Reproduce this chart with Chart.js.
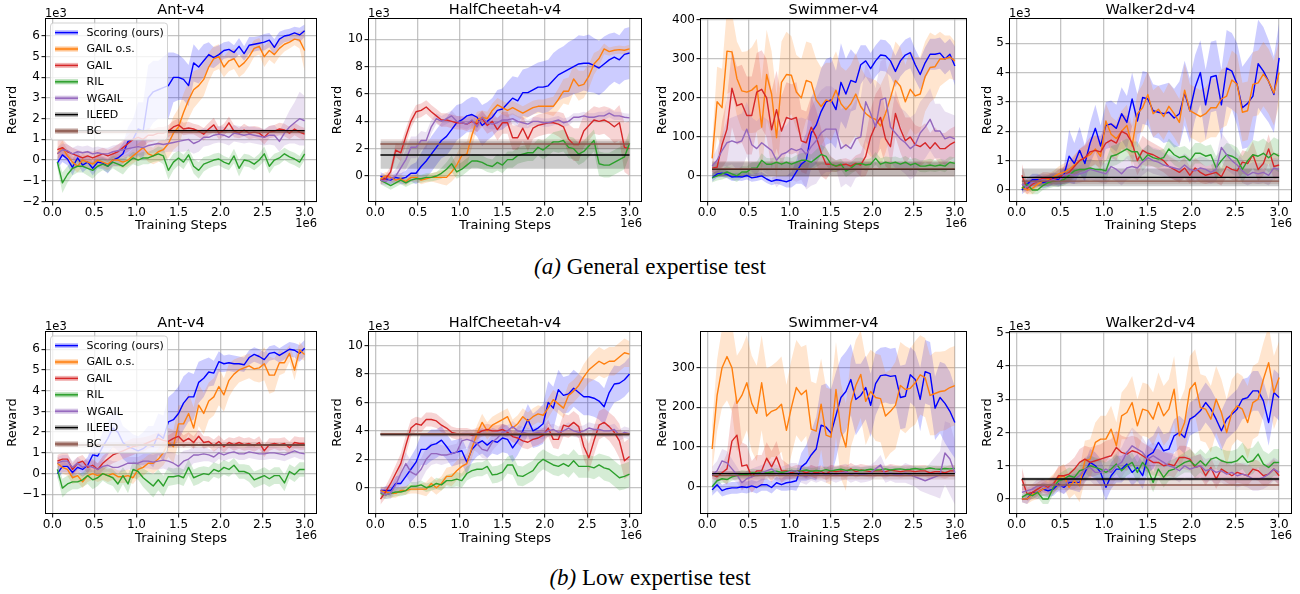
<!DOCTYPE html>
<html>
<head>
<meta charset="utf-8">
<script src="https://cdn.jsdelivr.net/npm/chart.js@4.4.1/dist/chart.umd.min.js"></script>
<style>
html,body{margin:0;padding:0;background:#fff;width:1300px;height:594px;overflow:hidden;}
body{position:relative;font-family:"DejaVu Sans",sans-serif;}
canvas{position:absolute;}
.cap{position:absolute;left:0;width:1300px;text-align:center;font-family:"Liberation Serif",serif;font-size:23px;line-height:26px;color:#000;}
</style>
</head>
<body>
<div class="cap" style="top:254px"><i>(a)</i> General expertise test</div>
<div class="cap" style="top:565px"><i>(b)</i> Low expertise test</div>
<script>
// ---------------- DATA ----------------
const seriesNames = ['Scoring (ours)','GAIL o.s.','GAIL','RIL','WGAIL','ILEED','BC'];
const steps = [0.06,0.12,0.18,0.24,0.30,0.36,0.42,0.48,0.54,0.60,
  0.66,0.72,0.78,0.84,0.90,0.96,1.02,1.08,1.14,1.20,
  1.26,1.32,1.38,1.44,1.50,1.56,1.62,1.68,1.74,1.80,
  1.86,1.92,1.98,2.04,2.10,2.16,2.22,2.28,2.34,2.40,
  2.46,2.52,2.58,2.64,2.70,2.76,2.82,2.88,2.94,3.00];
const xTicks = [0,0.5,1,1.5,2,2.5,3];
const yTicksAntG = [-2,-1,0,1,2,3,4,5,6];
const yTicksAntL = [-1,0,1,2,3,4,5,6];
const yTicksHalf = [0,2,4,6,8,10];
const yTicksSwimG = [0,100,200,300,400];
const yTicksSwimL = [0,100,200,300];
const yTicksWalk = [0,1,2,3,4,5];

// ===== (a) General expertise: Ant-v4 (x1e3) =====
const gAnt_scoring = [-0.15,0.25,0.05,-0.35,0.1,-0.25,-0.1,-0.4,-0.1,-0.15,
  -0.3,0.0,0.1,0.3,0.9,1.0,1.5,1.4,3.0,3.3,
  3.4,3.5,3.6,4.0,4.0,3.9,3.6,4.7,4.5,4.8,
  5.1,4.95,5.1,5.3,5.35,5.2,5.5,5.15,5.55,5.6,
  5.65,5.7,5.8,5.45,5.85,6.0,6.05,6.15,6.05,6.25];
const gAnt_scoring_sd = [0.3,0.35,0.3,0.4,0.3,0.35,0.3,0.35,0.3,0.3,
  0.35,0.3,0.4,0.5,0.7,1.0,1.3,1.4,1.6,1.5,
  1.4,1.5,1.6,1.2,1.1,1.0,1.0,0.9,0.8,0.8,
  0.6,0.5,0.45,0.4,0.4,0.35,0.4,0.35,0.4,0.35,
  0.35,0.4,0.35,0.4,0.35,0.3,0.3,0.3,0.35,0.3];
const gAnt_gailos = [0.3,0.6,0.2,-0.1,-0.3,0.0,-0.1,-0.2,0.0,-0.1,
  -0.2,0.0,0.0,-0.1,0.0,0.2,0.4,0.6,0.3,0.2,
  0.4,0.5,0.8,1.3,1.6,2.3,2.9,3.4,3.6,3.9,
  4.5,4.9,5.0,4.5,4.8,4.9,4.5,4.7,5.0,5.4,
  5.5,5.0,5.3,5.1,5.4,5.6,5.7,5.85,5.8,5.3];
const gAnt_gailos_sd = [0.3,0.35,0.3,0.3,0.3,0.3,0.3,0.3,0.3,0.3,
  0.3,0.3,0.3,0.3,0.3,0.35,0.4,0.4,0.4,0.4,
  0.5,0.5,0.7,0.8,0.9,0.9,0.9,0.9,0.8,0.8,
  0.7,0.6,0.6,0.5,0.5,0.5,0.5,0.5,0.45,0.4,
  0.4,0.5,0.45,0.45,0.4,0.35,0.3,0.3,0.4,1.0];
const gAnt_gail = [0.5,0.6,0.4,0.3,0.2,0.1,0.2,0.1,0.2,0.3,
  0.2,0.3,0.4,0.6,0.8,1.0,1.1,1.0,1.2,1.2,
  1.3,1.3,1.4,1.6,1.7,1.5,1.55,1.5,1.4,1.25,
  1.5,1.7,1.3,1.45,1.8,1.4,1.3,1.45,1.3,1.35,
  1.3,1.1,1.35,1.4,1.5,1.45,1.3,1.5,1.35,1.25];
const gAnt_gail_sd = [0.45,0.4,0.35,0.3,0.3,0.3,0.25,0.3,0.3,0.3,
  0.3,0.3,0.35,0.35,0.4,0.4,0.4,0.35,0.35,0.3,
  0.3,0.3,0.3,0.3,0.3,0.3,0.3,0.25,0.3,0.3,
  0.3,0.35,0.3,0.3,0.3,0.3,0.25,0.3,0.3,0.3,
  0.3,0.35,0.3,0.3,0.3,0.3,0.3,0.3,0.3,0.3];
const gAnt_ril = [-0.1,-1.1,-0.7,-0.4,-0.3,-0.3,-0.4,-0.5,-0.3,-0.2,
  -0.3,-0.1,-0.2,-0.3,-0.1,0.1,0.0,0.1,0.1,0.2,
  0.3,0.2,-0.5,-0.1,0.1,-0.1,0.25,-0.3,-0.5,-0.2,
  -0.1,0.0,0.05,-0.1,-0.2,0.2,-0.4,0.0,-0.05,-0.2,
  0.0,0.3,-0.3,0.0,0.1,0.3,0.15,0.05,-0.1,0.3];
const gAnt_ril_sd = [0.3,0.5,0.4,0.35,0.3,0.3,0.35,0.4,0.35,0.3,
  0.3,0.3,0.35,0.4,0.3,0.3,0.3,0.3,0.3,0.3,
  0.35,0.4,0.45,0.4,0.35,0.35,0.3,0.35,0.4,0.35,
  0.3,0.3,0.3,0.3,0.3,0.35,0.4,0.3,0.3,0.3,
  0.3,0.35,0.35,0.3,0.3,0.3,0.3,0.3,0.3,0.3];
const gAnt_wgail = [0.3,0.5,0.45,0.3,0.4,0.35,0.4,0.3,0.35,0.3,
  0.3,0.4,0.45,0.5,0.55,0.6,0.65,0.6,0.7,0.75,
  0.8,0.75,0.8,0.85,0.9,0.95,1.0,0.8,0.9,1.1,
  1.1,1.2,1.25,1.2,1.1,1.3,1.25,1.2,1.25,1.2,
  1.15,1.1,1.2,1.2,0.9,1.3,1.6,1.8,2.0,1.9];
const gAnt_wgail_sd = [0.3,0.3,0.3,0.3,0.3,0.3,0.3,0.3,0.3,0.3,
  0.3,0.3,0.3,0.35,0.35,0.4,0.4,0.4,0.4,0.4,
  0.4,0.4,0.4,0.45,0.5,0.55,0.55,0.5,0.5,0.45,
  0.4,0.4,0.4,0.4,0.4,0.4,0.4,0.4,0.4,0.4,
  0.4,0.4,0.45,0.5,0.5,0.6,0.8,1.0,1.3,1.2];
const gAnt_ileed = [1.42, 0.05];
const gAnt_bc = [1.35, 0.1];

// ===== (a) HalfCheetah-v4 (x1e3) =====
const gHalf_scoring = [0.0,-0.2,-0.3,-0.1,-0.2,-0.1,0.2,0.2,0.7,1.1,
  1.6,2.1,2.6,2.9,3.4,3.9,4.1,4.4,4.5,4.3,
  3.7,4.0,4.3,4.8,4.9,5.3,5.7,5.5,6.1,6.1,
  6.3,6.5,6.5,6.6,7.0,7.4,7.6,7.8,8.0,8.2,
  8.25,8.25,8.1,7.9,8.2,8.5,8.7,8.5,8.9,9.0];
const gHalf_scoring_sd = [0.3,0.3,0.3,0.3,0.4,0.5,0.6,0.8,1.0,1.2,
  1.3,1.3,1.3,1.4,1.4,1.3,1.2,1.2,1.3,1.4,
  1.5,1.4,1.4,1.5,1.5,1.6,1.6,1.7,1.7,1.8,
  1.8,1.8,1.9,1.9,2.0,1.9,1.9,2.0,2.0,2.1,
  2.0,2.1,2.0,2.0,2.0,1.9,1.8,1.8,1.9,1.9];
const gHalf_gailos = [-0.2,0.0,-0.1,-0.3,-0.2,-0.4,-0.1,-0.1,-0.3,-0.2,
  -0.1,-0.1,-0.1,-0.1,0.3,0.8,1.5,1.6,3.0,4.1,
  4.3,4.2,4.8,5.2,5.0,4.8,5.0,4.8,4.6,4.8,
  5.0,5.1,5.1,5.1,5.1,5.6,6.2,6.2,7.1,6.6,
  6.7,7.3,8.2,8.6,9.3,9.1,9.2,9.25,9.2,9.3];
const gHalf_gailos_sd = [0.3,0.3,0.3,0.3,0.3,0.3,0.3,0.3,0.3,0.3,
  0.3,0.4,0.5,0.6,0.7,0.8,0.9,0.9,0.9,0.6,
  0.5,0.5,0.5,0.5,0.5,0.5,0.5,0.5,0.5,0.5,
  0.5,0.5,0.5,0.6,0.7,0.8,0.9,1.0,1.0,1.1,
  1.0,0.9,0.8,0.6,0.4,0.3,0.3,0.3,0.3,0.3];
const gHalf_gail = [-0.3,-0.2,0.3,1.9,1.7,2.9,4.0,4.7,4.8,5.05,
  4.7,4.4,4.1,4.1,4.0,3.9,3.9,3.8,4.0,3.8,
  4.2,3.7,4.0,3.4,3.9,3.9,2.8,2.8,3.5,2.7,
  3.5,3.7,3.8,3.9,3.9,3.8,3.6,2.7,2.3,2.3,
  3.3,3.7,4.1,4.0,4.1,3.9,3.6,3.9,2.1,2.0];
const gHalf_gail_sd = [0.3,0.3,0.4,0.5,0.6,0.6,0.5,0.5,0.5,0.5,
  0.5,0.5,0.5,0.5,0.5,0.5,0.5,0.5,0.5,0.6,
  0.6,0.6,0.7,0.8,0.8,0.8,0.9,0.9,0.9,0.9,
  0.8,0.8,0.8,0.8,0.8,0.9,1.0,1.1,1.2,1.2,
  1.2,1.1,1.0,1.0,1.0,1.1,1.2,1.3,1.8,2.0];
const gHalf_ril = [-0.3,-0.5,-0.7,-0.5,-0.3,-0.5,-0.3,-0.2,-0.2,-0.1,
  -0.1,0.0,0.2,0.5,0.9,0.3,0.5,0.8,1.1,1.1,
  1.0,0.8,0.7,1.0,0.8,1.2,1.2,1.5,1.6,1.7,
  1.7,2.1,1.9,2.2,2.5,2.5,2.6,2.1,2.0,1.6,
  1.8,2.2,2.6,0.9,0.8,0.8,1.0,1.2,1.4,2.4];
const gHalf_ril_sd = [0.3,0.3,0.3,0.3,0.3,0.3,0.3,0.3,0.3,0.3,
  0.3,0.3,0.4,0.5,0.6,0.5,0.5,0.5,0.5,0.5,
  0.5,0.5,0.5,0.6,0.6,0.6,0.6,0.6,0.6,0.6,
  0.6,0.6,0.7,0.7,0.7,0.8,0.8,0.8,0.8,0.8,
  0.8,0.8,0.8,0.9,0.9,0.9,0.9,0.9,0.9,0.9];
const gHalf_wgail = [-0.3,-0.4,-0.2,0.0,0.6,1.2,2.1,2.1,2.6,2.6,
  3.6,4.2,4.0,4.2,4.4,4.0,3.9,3.8,4.1,3.6,
  4.3,3.9,3.8,3.9,4.1,4.1,4.2,4.0,3.9,3.8,
  4.0,4.0,3.9,3.9,4.0,4.1,3.9,4.0,4.3,4.3,
  4.4,4.3,4.3,4.4,4.4,4.6,4.4,4.4,4.3,4.25];
const gHalf_wgail_sd = [0.3,0.3,0.4,0.5,0.6,0.7,0.8,0.8,0.7,0.6,
  0.5,0.4,0.4,0.4,0.4,0.4,0.4,0.4,0.4,0.4,
  0.4,0.4,0.4,0.4,0.4,0.4,0.4,0.4,0.4,0.3,
  0.3,0.3,0.3,0.3,0.3,0.3,0.3,0.3,0.3,0.3,
  0.3,0.3,0.3,0.3,0.3,0.3,0.3,0.3,0.3,0.3];
const gHalf_ileed = [1.54, 1.0];
const gHalf_bc = [2.34, 0.35];

// ===== (a) Swimmer-v4 =====
const gSwim_scoring = [-5,5,7,4,-3,-2,-3,1,-5,-3,
  0,-8,-14,-10,-12,-15,-10,10,30,40,
  110,130,165,190,195,170,240,210,245,240,
  285,295,275,295,310,308,295,268,295,310,
  316,285,260,290,312,312,315,300,312,282];
const gSwim_scoring_sd = [10,10,10,10,10,10,10,10,10,10,
  10,10,10,10,12,15,20,30,50,70,
  90,100,110,110,110,100,100,90,80,70,
  50,40,40,40,40,40,40,40,40,40,
  40,40,40,40,40,40,40,40,40,50];
const gSwim_gailos = [45,190,175,320,318,250,218,215,220,232,
  125,260,210,98,240,260,258,215,200,245,
  240,195,178,195,190,220,185,170,185,210,
  178,160,150,145,128,160,200,245,230,190,
  222,205,210,255,278,280,300,300,305,295];
const gSwim_gailos_sd = [40,90,100,110,100,95,100,105,110,120,
  120,115,110,110,105,110,100,95,100,100,
  100,105,100,95,100,100,95,100,100,105,
  100,95,100,100,105,100,95,100,100,95,
  100,100,95,90,90,80,70,60,55,50];
const gSwim_gail = [20,22,80,120,225,180,185,155,155,215,
  222,200,118,170,115,150,145,150,90,85,
  125,100,60,30,30,25,28,30,25,32,
  28,50,100,130,150,95,75,160,120,90,
  100,80,75,85,70,85,70,70,80,87];
const gSwim_gail_sd = [10,20,60,80,100,100,100,100,100,100,
  100,100,100,100,90,90,90,90,80,80,
  80,70,60,40,20,15,15,15,15,20,
  30,50,70,80,80,70,60,60,60,60,
  50,50,50,50,40,40,40,40,40,40];
const gSwim_ril = [-5,0,5,10,5,0,10,10,20,20,
  40,30,30,35,30,35,30,35,40,40,
  35,45,55,50,30,25,30,12,20,30,
  32,28,30,45,30,35,32,35,30,35,
  28,32,25,25,28,25,28,25,35,32];
const gSwim_ril_sd = [12,12,14,15,15,16,15,14,15,16,
  18,16,15,15,16,15,16,18,18,20,
  20,22,25,22,18,15,14,15,15,16,
  15,14,15,16,15,15,16,15,15,16,
  15,14,15,16,16,15,15,16,15,15];
const gSwim_wgail = [25,40,65,85,90,85,90,120,80,70,
  85,75,65,40,55,60,70,65,70,55,
  75,90,110,120,120,120,70,80,70,95,
  100,190,160,125,195,200,125,110,95,85,
  70,80,110,125,145,115,115,95,100,95];
const gSwim_wgail_sd = [20,30,40,60,60,70,70,70,70,70,
  70,70,70,70,70,70,80,80,80,90,
  100,110,110,110,110,100,100,100,100,100,
  100,100,100,100,100,100,90,90,80,80,
  80,80,80,80,80,70,70,70,60,60];
const gSwim_ileed = [17, 18];
const gSwim_bc = [18, 20];

// ===== (a) Walker2d-v4 (x1e3) =====
const gWalk_scoring = [0.0,0.2,0.35,0.35,0.25,0.3,0.4,0.35,0.5,1.15,
  0.9,1.35,0.9,1.6,2.1,1.5,2.2,2.25,2.1,2.6,
  2.3,3.1,2.35,3.15,3.1,2.7,2.65,2.6,2.65,2.45,
  2.6,3.3,2.7,3.5,4.0,2.9,3.85,3.9,2.9,4.15,
  4.05,3.6,2.8,2.95,3.2,4.3,4.05,3.7,3.25,4.5];
const gWalk_scoring_sd = [0.15,0.2,0.2,0.2,0.2,0.2,0.2,0.2,0.3,0.9,
  0.7,0.8,0.6,0.7,0.8,0.7,0.8,0.8,0.8,0.9,
  0.9,0.9,0.9,0.9,0.9,0.9,0.9,1.0,1.0,1.0,
  1.1,1.1,1.1,1.1,1.1,1.2,1.2,1.2,1.2,1.3,
  1.3,1.4,1.4,1.5,1.5,1.5,1.5,1.4,1.3,1.2];
const gWalk_gailos = [0.1,0.0,0.05,0.2,0.3,0.35,0.45,0.55,0.6,0.7,
  0.85,1.0,1.1,1.2,1.4,1.15,2.35,1.9,1.75,2.0,
  2.2,1.5,2.6,2.8,3.25,2.6,2.75,2.5,2.85,2.6,
  2.3,3.4,2.7,2.6,2.5,2.6,2.8,2.8,3.1,3.2,
  3.75,3.6,2.65,2.7,3.6,3.65,3.95,3.7,3.3,4.0];
const gWalk_gailos_sd = [0.15,0.15,0.2,0.2,0.2,0.2,0.2,0.25,0.3,0.3,
  0.35,0.4,0.4,0.45,0.5,0.5,0.6,0.6,0.6,0.7,
  0.7,0.7,0.7,0.8,0.8,0.8,0.8,0.8,0.8,0.8,
  0.8,0.9,0.9,0.9,0.9,0.9,1.0,1.0,1.0,1.0,
  1.0,1.0,1.0,1.0,1.1,1.1,1.1,1.1,1.1,1.1];
const gWalk_gail = [0.5,0.05,0.2,0.3,0.4,0.4,0.35,0.45,0.5,0.6,
  0.8,1.0,1.1,1.3,1.35,1.3,1.6,1.7,1.6,2.0,
  1.9,1.6,1.0,1.35,1.25,1.2,1.1,1.0,0.8,0.7,
  0.6,0.75,0.5,0.75,0.6,0.5,0.55,0.6,0.45,0.8,
  0.7,0.65,0.95,0.9,1.2,0.7,0.9,1.4,0.8,0.85];
const gWalk_gail_sd = [0.4,0.2,0.2,0.2,0.2,0.2,0.2,0.25,0.3,0.3,
  0.35,0.4,0.45,0.5,0.5,0.55,0.6,0.6,0.6,0.6,
  0.6,0.55,0.5,0.5,0.45,0.4,0.4,0.4,0.35,0.35,
  0.35,0.35,0.3,0.35,0.35,0.3,0.3,0.35,0.3,0.35,
  0.35,0.35,0.4,0.4,0.45,0.4,0.4,0.5,0.45,0.4];
const gWalk_ril = [0.05,0.2,0.0,0.0,0.15,0.25,0.3,0.3,0.35,0.5,
  0.65,0.7,0.7,0.75,0.7,0.7,0.65,1.15,1.2,1.3,
  1.4,1.3,1.3,1.0,1.2,1.1,1.05,1.1,1.4,1.2,
  1.1,1.15,1.0,1.25,1.25,1.15,1.2,0.75,1.0,1.2,
  1.15,1.05,0.7,1.0,1.2,1.15,1.25,1.1,1.25,1.15];
const gWalk_ril_sd = [0.1,0.15,0.15,0.15,0.15,0.2,0.2,0.2,0.2,0.25,
  0.25,0.3,0.3,0.3,0.3,0.3,0.35,0.35,0.35,0.35,
  0.35,0.35,0.35,0.35,0.35,0.3,0.3,0.3,0.35,0.35,
  0.35,0.35,0.35,0.35,0.35,0.35,0.35,0.4,0.4,0.4,
  0.4,0.4,0.45,0.45,0.5,0.5,0.5,0.5,0.55,0.55];
const gWalk_wgail = [0.2,0.1,0.25,0.3,0.35,0.3,0.35,0.3,0.5,0.55,
  0.5,0.55,0.6,0.7,0.65,0.6,0.55,0.8,0.7,0.55,
  0.75,0.8,0.75,0.95,1.1,1.0,0.95,0.85,0.8,0.75,
  0.7,0.85,0.7,0.65,0.75,0.7,0.6,0.7,1.45,1.2,
  1.0,0.85,0.65,0.5,0.6,0.55,0.6,0.5,0.75,0.7];
const gWalk_wgail_sd = [0.15,0.15,0.2,0.2,0.2,0.2,0.2,0.2,0.25,0.3,
  0.3,0.3,0.3,0.35,0.35,0.35,0.35,0.4,0.4,0.4,
  0.4,0.4,0.4,0.45,0.45,0.45,0.45,0.4,0.4,0.4,
  0.4,0.4,0.4,0.4,0.4,0.4,0.4,0.4,0.5,0.5,
  0.45,0.4,0.4,0.35,0.35,0.35,0.35,0.35,0.35,0.35];
const gWalk_ileed = [0.43, 0.3];
const gWalk_bc = [0.3, 0.1];

// ===== (b) Low expertise: Ant-v4 (x1e3) =====
const lAnt_scoring = [0.0,0.35,0.35,0.05,0.3,0.2,0.4,0.9,0.85,1.3,
  1.7,2.2,2.0,1.5,1.3,1.2,1.1,1.2,1.4,1.3,
  1.9,1.7,2.5,2.6,2.9,3.4,3.7,3.7,4.4,4.6,
  4.9,4.85,5.4,5.3,5.35,5.3,5.3,5.25,5.6,5.75,
  5.65,5.5,5.8,5.85,5.7,5.85,6.0,5.95,5.8,6.05];
const lAnt_scoring_sd = [0.3,0.3,0.3,0.3,0.3,0.35,0.4,0.5,0.6,0.7,
  0.8,0.9,0.9,0.8,0.8,0.7,0.7,0.8,0.9,1.0,
  1.0,1.1,1.2,1.3,1.3,1.3,1.2,1.1,1.0,0.9,
  0.7,0.6,0.5,0.4,0.4,0.4,0.35,0.35,0.35,0.35,
  0.35,0.35,0.35,0.35,0.35,0.35,0.35,0.35,0.4,0.4];
const lAnt_gailos = [0.5,0.3,0.2,-0.2,-0.1,-0.4,-0.1,0.0,-0.1,0.0,
  -0.1,0.0,-0.15,-0.15,-0.1,-0.2,0.2,0.3,0.5,0.5,
  0.7,1.0,1.5,1.3,2.4,2.4,2.9,2.2,3.3,2.9,
  3.5,3.7,4.2,3.8,4.5,4.8,5.0,5.1,5.2,5.05,
  5.1,5.3,4.75,4.75,5.35,5.35,5.8,5.0,5.95,5.75];
const lAnt_gailos_sd = [0.3,0.3,0.3,0.3,0.3,0.3,0.3,0.3,0.3,0.3,
  0.3,0.3,0.3,0.3,0.3,0.3,0.4,0.4,0.4,0.5,
  0.5,0.6,0.7,0.8,0.9,0.9,1.0,1.0,1.0,1.0,
  0.9,0.9,0.9,0.8,0.8,0.7,0.6,0.6,0.6,0.6,
  0.7,0.8,0.9,0.8,0.6,0.5,0.4,0.5,0.4,0.3];
const lAnt_gail = [0.6,0.7,0.7,0.2,0.5,0.6,0.3,0.4,0.2,0.5,
  0.7,0.9,1.0,1.1,1.2,1.3,1.35,1.4,1.5,1.6,
  1.7,1.6,1.55,1.7,1.8,1.55,1.7,1.5,1.8,1.5,
  1.55,1.35,1.55,1.3,1.5,1.4,1.5,1.4,1.45,1.35,
  1.5,1.1,1.4,1.45,1.4,1.45,1.25,1.5,1.45,1.45];
const lAnt_gail_sd = [0.3,0.3,0.3,0.3,0.3,0.3,0.3,0.3,0.3,0.35,
  0.35,0.4,0.4,0.4,0.4,0.4,0.35,0.35,0.3,0.3,
  0.3,0.3,0.3,0.3,0.3,0.3,0.3,0.3,0.3,0.3,
  0.25,0.3,0.3,0.3,0.25,0.3,0.3,0.3,0.3,0.3,
  0.3,0.3,0.3,0.25,0.3,0.3,0.3,0.3,0.3,0.3];
const lAnt_ril = [0.2,-0.7,-0.5,-0.4,-0.4,-0.3,-0.1,-0.3,-0.2,0.0,
  -0.1,-0.2,-0.5,-0.1,-0.5,0.2,0.1,-0.2,-0.4,-0.6,
  -0.3,-0.6,-0.15,-0.15,-0.1,-0.2,0.3,-0.2,-0.1,0.0,
  -0.05,0.2,0.1,0.3,0.2,0.4,0.1,0.1,0.0,-0.3,
  -0.2,-0.1,-0.25,-0.1,-0.1,-0.45,0.1,-0.05,0.2,0.2];
const lAnt_ril_sd = [0.35,0.45,0.4,0.35,0.35,0.35,0.4,0.45,0.4,0.35,
  0.4,0.4,0.45,0.4,0.45,0.4,0.4,0.45,0.5,0.55,
  0.5,0.5,0.45,0.4,0.4,0.4,0.4,0.4,0.4,0.35,
  0.35,0.35,0.35,0.35,0.35,0.35,0.35,0.35,0.4,0.4,
  0.4,0.4,0.4,0.4,0.4,0.4,0.35,0.35,0.35,0.35];
const lAnt_wgail = [0.5,0.6,0.6,0.3,0.5,0.3,0.4,0.3,0.2,0.35,
  0.4,0.3,0.3,0.4,0.5,0.5,0.5,0.6,0.6,0.55,
  0.6,0.65,0.6,0.5,0.35,0.6,0.7,0.9,0.9,0.95,
  0.9,0.8,1.0,0.9,1.0,1.05,0.95,0.95,1.05,1.0,
  0.95,0.95,1.0,1.0,0.95,0.9,1.0,1.1,1.0,0.95];
const lAnt_wgail_sd = [0.3,0.3,0.3,0.3,0.3,0.3,0.3,0.3,0.3,0.3,
  0.3,0.3,0.3,0.3,0.3,0.3,0.3,0.35,0.35,0.35,
  0.4,0.4,0.45,0.5,0.55,0.5,0.45,0.4,0.35,0.35,
  0.3,0.3,0.3,0.3,0.3,0.3,0.3,0.3,0.3,0.3,
  0.3,0.3,0.3,0.3,0.3,0.3,0.3,0.3,0.3,0.3];
const lAnt_ileed = [1.38, 0.05];
const lAnt_bc = [1.38, 0.15];

// ===== (b) HalfCheetah-v4 (x1e3) =====
const lHalf_scoring = [-0.2,-0.2,-0.2,0.3,0.3,0.8,1.3,1.8,2.7,2.7,
  3.0,3.1,3.35,2.9,2.4,2.5,2.6,1.8,2.7,3.1,
  3.3,3.0,3.3,3.2,3.5,3.4,2.8,3.3,4.0,4.8,
  4.0,4.2,4.5,6.0,5.6,6.9,6.5,6.6,7.0,6.7,
  6.4,6.4,6.3,6.1,5.7,6.7,7.3,7.35,7.6,8.0];
const lHalf_scoring_sd = [0.2,0.3,0.4,0.5,0.6,0.8,0.9,1.0,1.1,1.1,
  1.1,1.0,1.0,0.9,0.9,0.9,0.9,0.9,0.9,0.9,
  0.9,0.9,0.9,0.9,1.0,1.0,1.0,1.0,1.0,1.1,
  1.2,1.3,1.4,1.5,1.5,1.4,1.3,1.3,1.3,1.3,
  1.3,1.3,1.3,1.3,1.3,1.3,1.3,1.2,1.2,1.2];
const lHalf_gailos = [-0.2,-0.3,-0.4,-0.4,-0.2,-0.2,-0.1,-0.1,-0.1,-0.1,
  0.3,0.0,0.3,0.8,0.8,1.2,1.5,1.7,2.8,3.8,
  4.6,4.0,4.4,4.6,4.8,5.0,4.2,4.5,5.0,4.7,
  5.0,5.2,5.1,5.6,6.2,5.9,5.6,6.5,6.8,7.2,
  7.8,8.3,8.6,8.9,8.7,8.9,8.9,9.2,9.5,9.4];
const lHalf_gailos_sd = [0.3,0.3,0.3,0.3,0.3,0.3,0.3,0.3,0.4,0.5,
  0.5,0.5,0.5,0.6,0.7,0.7,0.7,0.7,0.7,0.6,
  0.6,0.6,0.6,0.6,0.6,0.6,0.6,0.6,0.6,0.6,
  0.6,0.6,0.6,0.7,0.7,0.7,0.7,0.8,0.8,0.8,
  0.9,0.9,1.0,1.0,1.0,1.0,1.0,1.0,1.0,0.9];
const lHalf_gail = [-0.8,-0.3,0.3,1.0,1.7,3.0,4.2,4.5,4.4,4.8,
  4.8,4.7,4.4,4.2,3.9,3.8,3.8,3.8,3.7,3.8,
  4.0,4.1,4.0,4.0,4.1,3.9,3.6,3.5,3.3,3.2,
  3.4,3.5,3.7,4.2,3.4,3.4,4.4,4.3,4.6,4.3,
  2.9,2.1,3.3,4.4,4.6,4.3,3.9,3.3,1.9,2.2];
const lHalf_gail_sd = [0.4,0.4,0.5,0.6,0.7,0.7,0.6,0.5,0.5,0.5,
  0.5,0.5,0.5,0.4,0.4,0.4,0.4,0.4,0.4,0.4,
  0.4,0.4,0.4,0.4,0.4,0.4,0.4,0.4,0.5,0.5,
  0.5,0.5,0.5,0.6,0.6,0.7,0.8,0.8,0.8,0.8,
  0.9,1.0,1.0,1.0,1.0,1.0,1.1,1.2,1.3,1.3];
const lHalf_ril = [-0.4,-0.5,-0.4,-0.3,-0.3,-0.2,0.1,0.1,0.2,0.0,
  0.1,0.3,0.2,0.5,0.5,0.6,0.5,1.0,1.2,1.3,
  1.3,1.5,0.9,0.95,1.1,1.6,1.6,0.85,0.8,1.0,
  1.2,1.7,2.0,1.8,1.6,1.5,1.7,1.5,1.9,1.5,
  1.5,1.5,1.4,1.6,1.4,1.3,1.0,0.7,0.8,0.95];
const lHalf_ril_sd = [0.3,0.3,0.3,0.3,0.3,0.3,0.3,0.3,0.3,0.3,
  0.3,0.4,0.4,0.4,0.5,0.5,0.5,0.5,0.5,0.5,
  0.5,0.5,0.6,0.6,0.6,0.6,0.7,0.7,0.7,0.7,
  0.7,0.7,0.7,0.7,0.7,0.7,0.7,0.8,0.8,0.8,
  0.8,0.8,0.8,0.8,0.9,0.9,0.9,0.9,0.9,0.9];
const lHalf_wgail = [-0.3,-0.5,-0.4,0.2,1.0,1.7,1.1,0.9,1.3,2.0,
  2.4,2.4,2.3,2.3,2.4,2.5,3.3,3.4,3.3,3.1,
  2.7,2.6,3.2,3.5,3.9,4.0,4.3,4.0,3.9,3.8,
  3.8,3.9,3.8,4.0,4.1,3.9,4.0,4.2,4.0,3.9,
  4.0,4.2,4.1,4.1,4.0,4.0,4.1,3.7,3.9,3.8];
const lHalf_wgail_sd = [0.3,0.3,0.4,0.5,0.7,0.8,0.8,0.8,0.8,0.8,
  0.8,0.7,0.7,0.6,0.6,0.6,0.6,0.6,0.6,0.6,
  0.6,0.6,0.6,0.5,0.5,0.4,0.4,0.4,0.4,0.4,
  0.4,0.4,0.4,0.4,0.4,0.4,0.4,0.4,0.4,0.4,
  0.4,0.4,0.4,0.4,0.4,0.4,0.4,0.4,0.4,0.4];
const lHalf_ileed = [3.75, 0.1];
const lHalf_bc = [3.8, 0.22];

// ===== (b) Swimmer-v4 =====
const lSwim_scoring = [-8,5,-10,-5,-3,-3,0,-2,2,-2,
  5,5,-2,10,5,10,12,15,50,60,
  80,95,155,150,135,180,225,240,270,220,
  230,250,205,260,280,282,278,280,225,228,
  282,270,220,290,285,198,225,210,190,162];
const lSwim_scoring_sd = [15,15,15,15,15,15,15,15,15,15,
  15,15,15,15,15,20,20,25,35,45,
  60,80,100,110,110,110,100,100,90,90,
  80,80,80,80,70,70,70,70,80,80,
  70,70,80,80,80,80,90,100,100,90];
const lSwim_gailos = [95,230,300,328,300,210,230,262,210,185,
  262,178,190,195,208,142,200,250,232,243,
  145,140,208,130,125,245,140,100,210,255,
  283,215,240,225,222,178,190,205,255,245,
  248,262,282,275,230,235,240,242,250,255];
const lSwim_gailos_sd = [60,90,100,110,110,120,120,120,120,120,
  120,120,115,120,120,115,120,120,120,115,
  120,120,115,120,120,120,120,110,110,115,
  110,110,105,110,110,110,105,110,110,110,
  100,105,100,100,100,105,100,100,100,100];
const lSwim_gail = [30,25,35,45,115,130,52,55,25,40,
  40,72,50,75,40,40,35,40,40,35,
  40,35,38,32,40,38,40,38,45,38,
  42,40,38,40,40,38,42,40,38,40,
  40,38,40,40,35,38,38,35,40,40];
const lSwim_gail_sd = [10,10,20,40,80,100,60,50,40,40,
  40,40,40,40,30,20,15,15,15,15,
  15,15,15,15,15,15,15,15,15,15,
  15,15,15,15,15,15,15,15,15,15,
  15,15,15,15,15,15,15,15,15,15];
const lSwim_ril = [0,15,20,18,25,28,32,30,35,34,
  36,35,37,39,36,38,41,39,40,42,
  39,41,40,43,40,42,44,41,42,43,
  41,42,44,42,43,45,42,44,45,43,
  44,46,44,45,47,45,44,46,45,46];
const lSwim_ril_sd = [15,12,10,10,10,10,10,10,10,10,
  8,8,8,8,8,8,8,8,8,8,
  8,8,8,8,8,8,8,8,8,8,
  8,8,8,8,8,8,8,8,8,8,
  8,8,8,8,8,8,8,8,8,8];
const lSwim_wgail = [30,40,65,60,45,30,10,20,25,30,
  35,40,45,35,30,35,40,40,30,25,
  35,30,35,30,35,30,35,38,30,35,
  30,32,35,45,55,30,35,30,30,35,
  30,25,20,15,20,25,30,85,70,35];
const lSwim_wgail_sd = [20,25,30,30,25,20,20,20,20,20,
  20,20,20,20,20,20,20,20,20,20,
  20,20,20,20,20,20,20,20,20,20,
  20,20,20,20,25,20,20,20,20,25,
  25,25,30,30,40,50,60,80,90,80];
const lSwim_ileed = [33, 6];
const lSwim_bc = [28, 10];

// ===== (b) Walker2d-v4 (x1e3) =====
const lWalk_scoring = [0.0,0.0,0.2,0.2,0.3,0.25,0.3,0.45,0.35,0.5,
  0.5,0.5,0.8,1.1,1.0,0.8,0.35,0.7,0.9,0.9,
  1.05,0.8,0.95,0.7,1.3,1.4,1.7,1.45,1.5,1.9,
  2.0,1.85,2.4,2.5,2.65,2.9,2.7,2.4,2.05,2.4,
  2.55,2.7,3.0,3.05,3.25,3.25,2.95,2.3,3.2,3.05];
const lWalk_scoring_sd = [0.1,0.15,0.15,0.2,0.2,0.2,0.2,0.2,0.2,0.2,
  0.25,0.3,0.3,0.4,0.4,0.4,0.4,0.4,0.4,0.4,
  0.4,0.4,0.4,0.4,0.5,0.5,0.5,0.5,0.5,0.5,
  0.5,0.5,0.5,0.5,0.6,0.6,0.6,0.6,0.6,0.6,
  0.6,0.6,0.6,0.6,0.6,0.6,0.6,0.7,0.7,0.7];
const lWalk_gailos = [0.0,0.0,0.15,0.2,0.3,0.35,0.45,0.65,0.7,0.35,
  0.55,0.4,1.15,1.2,1.7,1.8,1.8,2.1,1.6,2.5,
  2.6,2.9,2.2,2.7,2.65,2.4,2.9,2.5,2.7,3.3,
  1.9,2.3,3.3,3.5,2.75,2.7,2.4,3.0,2.6,2.0,
  2.6,2.8,2.7,2.3,2.9,3.0,3.6,4.1,3.2,3.65];
const lWalk_gailos_sd = [0.1,0.15,0.2,0.2,0.2,0.25,0.3,0.3,0.35,0.35,
  0.4,0.5,0.6,0.6,0.6,0.7,0.7,0.7,0.7,0.7,
  0.8,0.8,0.8,0.8,0.8,0.8,0.9,0.9,0.9,1.0,
  1.0,1.0,1.0,1.0,1.0,1.0,1.0,1.0,1.0,1.0,
  1.0,1.0,1.0,1.1,1.1,1.1,1.1,1.1,1.1,1.1];
const lWalk_gail = [0.6,0.15,0.2,0.3,0.4,0.35,0.45,0.7,0.7,0.75,
  0.9,1.1,1.2,1.1,1.15,1.2,1.25,1.3,1.55,1.4,
  1.35,1.45,1.4,1.3,1.2,1.1,1.1,1.0,1.05,1.0,
  1.25,1.25,1.2,0.95,1.0,0.7,0.95,0.6,0.9,0.8,
  0.7,0.8,0.75,0.7,0.9,0.85,0.7,0.75,0.9,0.7];
const lWalk_gail_sd = [0.35,0.2,0.2,0.2,0.2,0.2,0.25,0.3,0.3,0.35,
  0.35,0.4,0.4,0.45,0.45,0.45,0.5,0.5,0.5,0.5,
  0.5,0.45,0.45,0.4,0.4,0.4,0.4,0.4,0.35,0.35,
  0.35,0.35,0.35,0.35,0.35,0.3,0.3,0.3,0.3,0.3,
  0.3,0.3,0.3,0.3,0.3,0.3,0.3,0.3,0.3,0.3];
const lWalk_ril = [0.05,0.15,0.1,0.2,0.0,0.0,0.35,0.55,0.6,0.7,
  0.65,0.85,0.9,1.0,0.95,0.9,0.8,0.9,1.05,0.85,
  1.0,1.1,0.8,1.1,0.9,0.5,0.9,0.65,0.85,0.9,
  1.0,1.1,1.15,1.0,1.15,1.0,1.2,1.25,1.15,1.1,
  1.1,1.15,1.3,1.1,1.15,1.35,1.05,0.95,1.1,1.1];
const lWalk_ril_sd = [0.1,0.1,0.1,0.15,0.15,0.15,0.2,0.2,0.25,0.25,
  0.25,0.25,0.3,0.3,0.3,0.3,0.3,0.3,0.3,0.3,
  0.3,0.3,0.3,0.3,0.3,0.3,0.3,0.3,0.3,0.3,
  0.3,0.3,0.35,0.35,0.35,0.35,0.35,0.35,0.35,0.35,
  0.35,0.35,0.4,0.4,0.4,0.4,0.4,0.4,0.4,0.4];
const lWalk_wgail = [0.2,0.25,0.3,0.4,0.4,0.3,0.45,0.4,0.4,0.55,
  0.6,0.7,0.9,0.95,0.8,0.8,0.9,0.8,1.0,1.1,
  1.4,1.6,1.5,1.4,1.2,1.3,1.2,1.1,1.0,0.95,
  0.85,1.0,0.9,0.95,1.0,0.85,0.9,0.8,0.85,0.75,
  0.8,0.7,0.75,0.7,0.6,0.6,0.65,0.75,0.9,0.8];
const lWalk_wgail_sd = [0.15,0.15,0.15,0.2,0.2,0.2,0.2,0.2,0.25,0.25,
  0.3,0.3,0.35,0.4,0.4,0.4,0.4,0.4,0.4,0.45,
  0.5,0.55,0.5,0.45,0.4,0.4,0.4,0.35,0.35,0.35,
  0.35,0.35,0.35,0.35,0.35,0.35,0.35,0.35,0.35,0.35,
  0.35,0.35,0.35,0.35,0.35,0.35,0.35,0.35,0.35,0.35];
const lWalk_ileed = [0.6, 0.05];
const lWalk_bc = [0.42, 0.15];

// ---------------- STYLE / LAYOUT ----------------
const LINE_COLORS = ['#0000ff','#ff7f0e','#d62728','#2ca02c','#9467bd','#000000','#8c564b'];
const BAND_COLORS = ['rgba(0,0,255,0.2)','rgba(255,127,14,0.2)','rgba(214,39,40,0.2)','rgba(44,160,44,0.2)','rgba(148,103,189,0.2)','rgba(0,0,0,0.2)','rgba(140,86,75,0.2)'];
const LEG_COLORS = ['rgba(0,0,255,0.25)','rgba(255,127,14,0.45)','rgba(214,39,40,0.35)','rgba(44,160,44,0.4)','rgba(148,103,189,0.4)','rgba(0,0,0,0.25)','rgba(140,86,75,0.55)'];
const FONT = '"DejaVu Sans", sans-serif';

const rows = [
  {top:0, fT:18, fB:202, axB:233},
  {top:310, fT:331, fB:514, axB:546}
];

const panels = [
  {row:0, title:'Ant-v4', rx:13, fL:45, fR:317, ymin:-2.03, ymax:6.87, yt:yTicksAntG, e3:true, legend:true,
   m:[gAnt_scoring,gAnt_gailos,gAnt_gail,gAnt_ril,gAnt_wgail], s:[gAnt_scoring_sd,gAnt_gailos_sd,gAnt_gail_sd,gAnt_ril_sd,gAnt_wgail_sd], flat:[gAnt_ileed,gAnt_bc]},
  {row:0, title:'HalfCheetah-v4', rx:338, fL:368, fR:642, ymin:-1.9, ymax:11.56, yt:yTicksHalf, e3:true,
   m:[gHalf_scoring,gHalf_gailos,gHalf_gail,gHalf_ril,gHalf_wgail], s:[gHalf_scoring_sd,gHalf_gailos_sd,gHalf_gail_sd,gHalf_ril_sd,gHalf_wgail_sd], flat:[gHalf_ileed,gHalf_bc]},
  {row:0, title:'Swimmer-v4', rx:663, fL:700, fR:967, ymin:-67, ymax:405, yt:yTicksSwimG, e3:false,
   m:[gSwim_scoring,gSwim_gailos,gSwim_gail,gSwim_ril,gSwim_wgail], s:[gSwim_scoring_sd,gSwim_gailos_sd,gSwim_gail_sd,gSwim_ril_sd,gSwim_wgail_sd], flat:[gSwim_ileed,gSwim_bc]},
  {row:0, title:'Walker2d-v4', rx:988, fL:1009, fR:1292, ymin:-0.41, ymax:5.86, yt:yTicksWalk, e3:true,
   m:[gWalk_scoring,gWalk_gailos,gWalk_gail,gWalk_ril,gWalk_wgail], s:[gWalk_scoring_sd,gWalk_gailos_sd,gWalk_gail_sd,gWalk_ril_sd,gWalk_wgail_sd], flat:[gWalk_ileed,gWalk_bc]},
  {row:1, title:'Ant-v4', rx:13, fL:45, fR:317, ymin:-1.95, ymax:6.88, yt:yTicksAntL, e3:true, legend:true,
   m:[lAnt_scoring,lAnt_gailos,lAnt_gail,lAnt_ril,lAnt_wgail], s:[lAnt_scoring_sd,lAnt_gailos_sd,lAnt_gail_sd,lAnt_ril_sd,lAnt_wgail_sd], flat:[lAnt_ileed,lAnt_bc]},
  {row:1, title:'HalfCheetah-v4', rx:338, fL:368, fR:642, ymin:-1.85, ymax:11.03, yt:yTicksHalf, e3:true,
   m:[lHalf_scoring,lHalf_gailos,lHalf_gail,lHalf_ril,lHalf_wgail], s:[lHalf_scoring_sd,lHalf_gailos_sd,lHalf_gail_sd,lHalf_ril_sd,lHalf_wgail_sd], flat:[lHalf_ileed,lHalf_bc]},
  {row:1, title:'Swimmer-v4', rx:663, fL:700, fR:967, ymin:-68.8, ymax:392.5, yt:yTicksSwimL, e3:false,
   m:[lSwim_scoring,lSwim_gailos,lSwim_gail,lSwim_ril,lSwim_wgail], s:[lSwim_scoring_sd,lSwim_gailos_sd,lSwim_gail_sd,lSwim_ril_sd,lSwim_wgail_sd], flat:[lSwim_ileed,lSwim_bc]},
  {row:1, title:'Walker2d-v4', rx:988, fL:1009, fR:1292, ymin:-0.45, ymax:5.05, yt:yTicksWalk, e3:true,
   m:[lWalk_scoring,lWalk_gailos,lWalk_gail,lWalk_ril,lWalk_wgail], s:[lWalk_scoring_sd,lWalk_gailos_sd,lWalk_gail_sd,lWalk_ril_sd,lWalk_wgail_sd], flat:[lWalk_ileed,lWalk_bc]}
];

// ---------------- PLUGIN: frame, titles, offsets, legend ----------------
function drawLegend(chart) {
  const {ctx, chartArea: a} = chart;
  const mains = chart.data.datasets.filter(d => d.isMain);
  const x0 = a.left + 5.5, y0 = a.top + 5, w = 117, h = 117, r = 3;
  ctx.save();
  ctx.beginPath();
  ctx.moveTo(x0 + r, y0); ctx.lineTo(x0 + w - r, y0); ctx.arcTo(x0 + w, y0, x0 + w, y0 + r, r);
  ctx.lineTo(x0 + w, y0 + h - r); ctx.arcTo(x0 + w, y0 + h, x0 + w - r, y0 + h, r);
  ctx.lineTo(x0 + r, y0 + h); ctx.arcTo(x0, y0 + h, x0, y0 + h - r, r);
  ctx.lineTo(x0, y0 + r); ctx.arcTo(x0, y0, x0 + r, y0, r); ctx.closePath();
  ctx.fillStyle = 'rgba(255,255,255,0.8)'; ctx.fill();
  ctx.strokeStyle = 'rgba(204,204,204,0.9)'; ctx.lineWidth = 1; ctx.stroke();
  mains.forEach((d, i) => {
    const y = y0 + 9.6 + i * 16.4;
    ctx.lineCap = 'butt';
    ctx.strokeStyle = d.legendBand; ctx.lineWidth = 5;
    ctx.beginPath(); ctx.moveTo(x0 + 4.5, y); ctx.lineTo(x0 + 27.5, y); ctx.stroke();
    ctx.strokeStyle = d.borderColor; ctx.lineWidth = 1.5;
    ctx.beginPath(); ctx.moveTo(x0 + 4.5, y); ctx.lineTo(x0 + 27.5, y); ctx.stroke();
    ctx.fillStyle = '#000'; ctx.font = '11px ' + FONT; ctx.textAlign = 'left'; ctx.textBaseline = 'middle';
    ctx.fillText(d.label, x0 + 36, y + 0.5);
  });
  ctx.restore();
}

const overlayPlugin = {
  id: 'overlay',
  afterDatasetsDraw(chart, args, opts) {
    if (opts.legend) drawLegend(chart);
  },
  afterDraw(chart, args, opts) {
    const {ctx, chartArea: a} = chart;
    ctx.save();
    ctx.strokeStyle = '#000'; ctx.lineWidth = 1;
    ctx.strokeRect(Math.round(a.left) + 0.5, Math.round(a.top) + 0.5, Math.round(a.right - a.left) - 1, Math.round(a.bottom - a.top) - 1);
    ctx.fillStyle = '#000';
    ctx.font = '14.5px ' + FONT; ctx.textAlign = 'center'; ctx.textBaseline = 'middle';
    ctx.fillText(opts.title, (a.left + a.right) / 2, a.top - 7.5);
    ctx.font = '11.5px ' + FONT;
    if (opts.e3) { ctx.textAlign = 'left'; ctx.textBaseline = 'alphabetic'; ctx.fillText('1e3', a.left, a.top - 1.5); }
    ctx.textAlign = 'right'; ctx.textBaseline = 'middle';
    ctx.fillText('1e6', a.right, a.bottom + 22);
    ctx.restore();
  }
};

function fmtY(v) {
  const s = String(Math.round(v));
  return v < 0 ? '\u2212' + s.slice(1) : s;
}

function buildDatasets(p) {
  const ds = [];
  [0,1,2,3,4].forEach(k => {
    const m = p.m[k], s = p.s[k];
    ds.push({label: seriesNames[k] + ' upper', data: steps.map((x, i) => ({x, y: m[i] + s[i]})),
      borderColor: 'transparent', borderWidth: 0, pointRadius: 0, fill: false, order: 200 + (6 - k) * 2 + 1});
    ds.push({label: seriesNames[k] + ' lower', data: steps.map((x, i) => ({x, y: m[i] - s[i]})),
      borderColor: 'transparent', borderWidth: 0, pointRadius: 0, fill: '-1', backgroundColor: BAND_COLORS[k], order: 200 + (6 - k) * 2});
  });
  [5, 6].forEach(k => {
    const [mu, sd] = p.flat[k - 5];
    const xs = [steps[0], steps[steps.length - 1]];
    ds.push({label: seriesNames[k] + ' upper', data: xs.map(x => ({x, y: mu + sd})),
      borderColor: 'transparent', borderWidth: 0, pointRadius: 0, fill: false, order: 200 + (6 - k) * 2 + 1});
    ds.push({label: seriesNames[k] + ' lower', data: xs.map(x => ({x, y: mu - sd})),
      borderColor: 'transparent', borderWidth: 0, pointRadius: 0, fill: '-1', backgroundColor: BAND_COLORS[k], order: 200 + (6 - k) * 2});
  });
  for (let k = 0; k < 7; k++) {
    let data;
    if (k < 5) data = steps.map((x, i) => ({x, y: p.m[k][i]}));
    else { const mu = p.flat[k - 5][0]; data = [{x: steps[0], y: mu}, {x: steps[steps.length - 1], y: mu}]; }
    ds.push({label: seriesNames[k], data, borderColor: LINE_COLORS[k], backgroundColor: LINE_COLORS[k],
      borderWidth: 1.4, pointRadius: 0, fill: false, tension: 0, borderJoinStyle: 'round',
      order: 6 - k, isMain: true, legendBand: LEG_COLORS[k]});
  }
  return ds;
}

function makePanel(p) {
  const r = rows[p.row];
  const left = Math.round(p.rx - 8);
  const width = Math.round(p.fR + 8 - left);
  const height = r.axB - r.top;
  const cv = document.createElement('canvas');
  cv.width = width; cv.height = height;
  cv.style.left = left + 'px'; cv.style.top = r.top + 'px';
  cv.style.width = width + 'px'; cv.style.height = height + 'px';
  document.body.appendChild(cv);
  const yW = p.fL - left;
  const xH = r.axB - r.fB;
  const padRight = width - (p.fR - left);
  new Chart(cv.getContext('2d'), {
    type: 'line',
    data: {datasets: buildDatasets(p)},
    plugins: [overlayPlugin],
    options: {
      responsive: false, animation: false, devicePixelRatio: 1,
      events: [],
      layout: {padding: {left: 0, right: padRight, top: r.fT - r.top, bottom: 0}},
      plugins: {
        legend: {display: false}, tooltip: {enabled: false}, title: {display: false},
        overlay: {title: p.title, e3: p.e3, legend: !!p.legend}
      },
      scales: {
        x: {
          type: 'linear', min: -0.087, max: 3.147,
          afterBuildTicks: s => { s.ticks = xTicks.map(v => ({value: v})); },
          afterFit: s => { s.height = xH; },
          ticks: {autoSkip: false, maxRotation: 0, padding: 0, color: '#000', font: {family: FONT, size: 12},
            callback: v => Number(v).toFixed(1)},
          grid: {color: 'rgba(176,176,176,0.75)', lineWidth: 1.3, tickLength: 3.5, tickColor: '#000', tickWidth: 1},
          border: {display: false},
          title: {display: true, text: 'Training Steps', color: '#000', font: {family: FONT, size: 13}, padding: {top: 0, bottom: 0}}
        },
        y: {
          type: 'linear', min: p.ymin, max: p.ymax,
          afterBuildTicks: s => { s.ticks = p.yt.map(v => ({value: v})); },
          afterFit: s => { s.width = yW; },
          ticks: {autoSkip: false, padding: 1.5, color: '#000', font: {family: FONT, size: 12}, callback: v => fmtY(v)},
          grid: {color: 'rgba(176,176,176,0.75)', lineWidth: 1.3, tickLength: 3.5, tickColor: '#000', tickWidth: 1},
          border: {display: false},
          title: {display: true, text: 'Reward', color: '#000', font: {family: FONT, size: 13}, padding: {top: 0, bottom: 0}}
        }
      }
    }
  });
}

panels.forEach(makePanel);
</script>
</body>
</html>
